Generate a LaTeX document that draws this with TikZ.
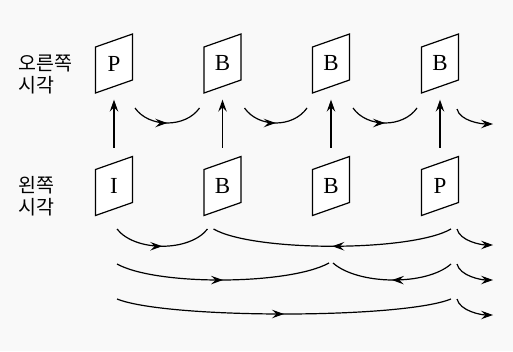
\documentclass[tikz,border=0pt]{standalone}
\usepackage{fontspec}
\newfontfamily\kr{Noto Sans CJK KR}
\newfontfamily\tm{Liberation Serif}
\usetikzlibrary{arrows.meta}
\usetikzlibrary{calc}
\usetikzlibrary{decorations.markings}

\tikzset{
    frame/.style={minimum width=37pt, minimum height=46pt, inner sep=0pt,
        font=\tm\fontsize{23}{23}\selectfont},
    slab/.style={line width=1.2pt, fill=white},
    view/.style={align=left, font=\kr\fontsize{19.5}{22}\selectfont},
    tip/.style={-{Stealth[length=12pt,width=8.5pt,inset=4.5pt]}},
    up/.style={line width=1.1pt, tip, shorten <=15pt, shorten >=13pt},
    mid/.style={line width=1.2pt, postaction={decorate}, decoration={markings,
        mark=at position 0.5 with {\arrow{Stealth[length=12pt,width=8.5pt,inset=4.5pt]}}}},
    tail/.style={line width=1.2pt, tip},
}

\begin{document}
\begin{tikzpicture}[x=1pt, y=-1pt]
    \fill[gray!5] (0,0) rectangle (513,351);
    \useasboundingbox (0,0) rectangle (513,351);

    % view labels
    \node[view, anchor=west] (rview) at (15,74) {오른쪽\\시각};
    \node[view, anchor=west] (lview) at (15,196) {왼쪽\\시각};

    % frames: right view on top, left view below
    \foreach \n/\x/\y/\t in {r1/114/63.5/P, r2/222.5/63.5/B, r3/331/63.5/B, r4/440/63.5/B,
                             l1/114/186/I, l2/222.5/186/B, l3/331/186/B, l4/440/186/P} {
        \draw[slab] (\x-18.5,\y-16.5) -- ++(37,-13) -- ++(0,46) -- ++(-37,13) -- cycle;
        \node[frame] (\n) at (\x,\y) {\t};
    }

    % disparity between the views
    \foreach \i in {1,...,4}
        \draw[up] (l\i) -- (r\i);

    % right view, prediction along time
    \draw[mid] ([shift={(21,44.5)}]r1.center) .. controls +(14,20) and +(-14,20) .. ([shift={(-23,44.5)}]r2.center);
    \draw[mid] ([shift={(22,44.5)}]r2.center) .. controls +(14,20) and +(-14,20) .. ([shift={(-24,44.5)}]r3.center);
    \draw[mid] ([shift={(22,44.5)}]r3.center) .. controls +(14,20) and +(-14,20) .. ([shift={(-23,44.5)}]r4.center);
    \draw[tail] ([shift={(17,45.5)}]r4.center) .. controls +(3,12) and +(-12,0) .. ++(36,15);

    % left view, prediction along time
    \draw[mid] ([shift={(3,43)}]l1.center) .. controls +(18,23) and +(-18,23) .. ([shift={(-15,43)}]l2.center);
    \draw[mid] ([shift={(11,43)}]l4.center) .. controls +(-40,23) and +(40,23) .. ([shift={(-9,43)}]l2.center);
    \draw[tail] ([shift={(17,43)}]l4.center) .. controls +(3,12) and +(-12,0) .. ++(36,16);

    \draw[mid] ([shift={(3,78)}]l1.center) .. controls +(40,22) and +(-40,22) .. ([shift={(-2,77)}]l3.center);
    \draw[mid] ([shift={(11,78)}]l4.center) .. controls +(-25,22) and +(25,22) .. ([shift={(2,77)}]l3.center);
    \draw[tail] ([shift={(17,78)}]l4.center) .. controls +(3,12) and +(-12,0) .. ++(36,16);

    \draw[mid] ([shift={(3,113)}]l1.center) .. controls +(50,20) and +(-50,20) .. ([shift={(11,113)}]l4.center);
    \draw[tail] ([shift={(17,113)}]l4.center) .. controls +(3,12) and +(-12,0) .. ++(36,16);
\end{tikzpicture}
\end{document}
